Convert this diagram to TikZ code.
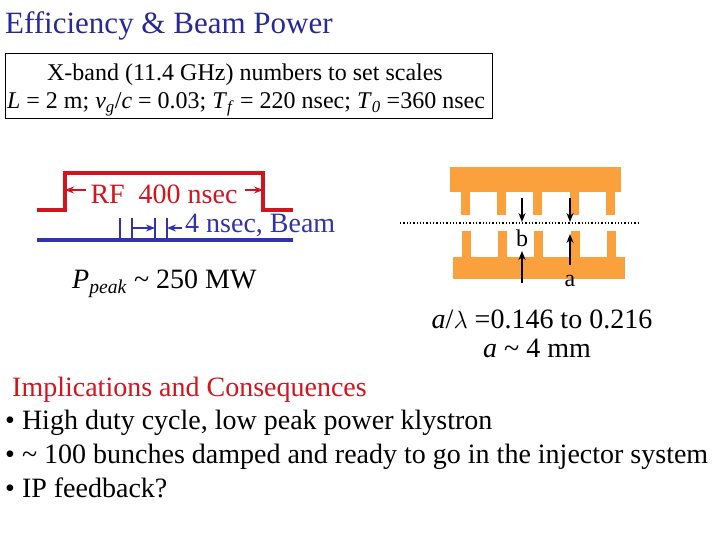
\documentclass[tikz,border=0pt]{standalone}
\usepackage{fontspec}
\setmainfont{Liberation Serif}
\usetikzlibrary{arrows.meta}
\definecolor{ttl}{RGB}{40,40,150}
\definecolor{rfred}{RGB}{210,20,30}
\definecolor{bblue}{RGB}{50,50,170}
\definecolor{cu}{RGB}{250,160,60}
\begin{document}
\begin{tikzpicture}[x=1pt,y=-1pt,
  txt/.style={inner sep=0pt,anchor=base west},
  big/.style={font=\fontsize{28}{32}\selectfont},
  cub/.style={fill=cu,draw=none},
  arr/.style={-{Stealth[length=9pt,width=7pt]},line width=1.8pt}]
\useasboundingbox (0,0) rectangle (720,540);
\node[txt,font=\fontsize{31}{36}\selectfont,text=ttl] (title) at (5,34) {Efficiency \& Beam Power};
\draw[line width=1pt] (5,54) rectangle (492,119);
\node[font=\fontsize{24}{28}\selectfont,inner sep=0pt,anchor=base] (b1) at (245,81) {X-band (11.4 GHz) numbers to set scales};
\node[font=\fontsize{24}{28}\selectfont,inner sep=0pt,anchor=base] (b2) at (246,109) {\textit{L} = 2 m; \textit{v}\textsubscript{\textit{g}}/\textit{c} = 0.03; \textit{T}\textsubscript{\textit{f}} = 220 nsec; \textit{T}\textsubscript{\textit{0}} =360 nsec};
% RF pulse
\draw[rfred,line width=3.5pt] (37,210) -- (65,210) -- (65,173) -- (263,173) -- (263,210) -- (293,210);
\node[big,text=rfred,inner sep=0pt,anchor=base] (rf) at (164,204) {RF\ \ 400 nsec};
\coordinate (rfl) at (65,190); \coordinate (rfr) at (263,190);
\draw[rfred,arr] (86,190) -- (rfl);
\draw[rfred,arr] (245,190) -- (rfr);
% beam
\draw[bblue,line width=3.5pt] (37,240) -- (293,240);
\foreach \x in {120,132,155,167} \draw[bblue,line width=2.5pt] (\x,218) -- (\x,240);
\coordinate (t1) at (155,228); \coordinate (t2) at (167,228);
\draw[bblue,arr] (133,228) -- (t1);
\draw[bblue,arr] (182,228) -- (t2);
\node[txt,big,text=bblue] (bm) at (185,233) {4 nsec, Beam};
\node[txt,big] (pp) at (72,288) {\textit{P}\textsubscript{\textit{peak}} \textasciitilde\ 250 MW};
% structure
\fill[cub] (450,167) rectangle (621,192);
\fill[cub] (453,257) rectangle (625,279);
\foreach \x in {461,497,533,570,606} {
  \fill[cub] (\x,191) rectangle (\x+9,215);
  \fill[cub] (\x+1,231) rectangle (\x+10,258);
}
\draw[line width=1.3pt,dotted] (400,223) -- (640,223);
\node[font=\fontsize{24}{28}\selectfont,inner sep=0pt,anchor=base] (lb) at (522,247) {b};
\node[font=\fontsize{24}{28}\selectfont,inner sep=0pt,anchor=base] (la) at (570,286) {a};
\coordinate (b1t) at (522,222); \coordinate (b1b) at (522,251);
\coordinate (a1t) at (570,222); \coordinate (a1b) at (570,234);
\draw[arr] (522,198) -- (b1t);
\draw[arr] (522,283) -- (b1b);
\draw[arr] (570,198) -- (a1t);
\draw[arr] (570,265) -- (a1b);
\node[big,inner sep=0pt,anchor=base] (al) at (542,328) {\textit{a}/$\lambda$ =0.146 to 0.216};
\node[big,inner sep=0pt,anchor=base] (am) at (537,357) {\textit{a} \textasciitilde\ 4 mm};
% text
\node[txt,big,text=rfred] (imp) at (12,396) {Implications and Consequences};
\node[txt,big] (l1) at (5,429) {• High duty cycle, low peak power klystron};
\node[txt,big] (l2) at (5,463) {• \textasciitilde\ 100 bunches damped and ready to go in the injector system};
\node[txt,big] (l3) at (5,497) {• IP feedback?};
\end{tikzpicture}
\end{document}
